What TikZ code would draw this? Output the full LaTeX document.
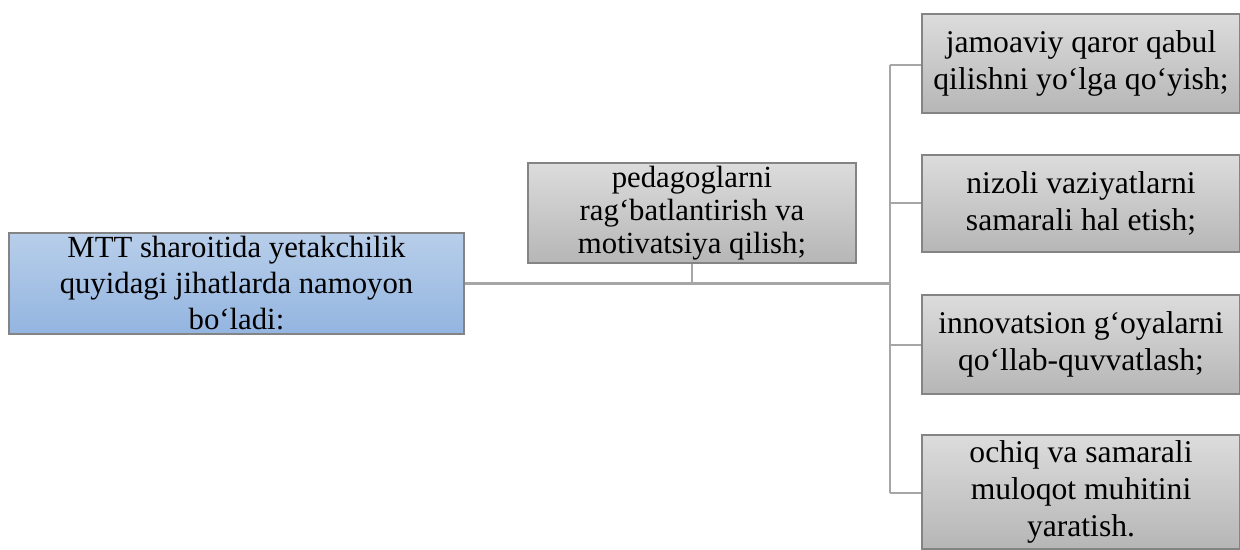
\documentclass[tikz,border=0pt]{standalone}
\usepackage{fontspec}
\setmainfont{Liberation Serif}
\definecolor{bluetop}{HTML}{B8CEEA}
\definecolor{bluebot}{HTML}{93B5E0}
\definecolor{greytop}{HTML}{DCDCDC}
\definecolor{greybot}{HTML}{B6B6B6}
\definecolor{edgegrey}{HTML}{848484}
\definecolor{linkgrey}{HTML}{A6A6A6}
\begin{document}
\begin{tikzpicture}[x=0.02cm,y=-0.02cm,
		box/.style={draw=edgegrey,line width=0.8pt,align=center,inner xsep=0pt,inner ysep=0pt,
			font=\fontsize{18}{21}\selectfont},
		bluebox/.style={box,top color=bluetop,bottom color=bluebot,font=\fontsize{17.5}{20.5}\selectfont},
		greybox/.style={box,top color=greytop,bottom color=greybot},
		link/.style={draw=linkgrey,line width=1.5pt}]
		\useasboundingbox (0,0) rectangle (1240,550);
		% boxes
		\node[bluebox,minimum width=9.10cm,minimum height=2.02cm] (main) at (236.5,283.5) {MTT sharoitida yetakchilik\\quyidagi jihatlarda namoyon\\bo‘ladi:};
		\node[greybox,minimum width=6.56cm,minimum height=2.00cm,font=\fontsize{17.5}{18.8}\selectfont] (ped) at (692,213) {pedagoglarni\\rag‘batlantirish va\\motivatsiya qilish;};
		\node[greybox,minimum width=6.36cm,minimum height=1.98cm] (r1) at (1081,63.5) {jamoaviy qaror qabul\\qilishni yo‘lga qo‘yish;};
		\node[greybox,minimum width=6.36cm,minimum height=1.94cm] (r2) at (1081,203.5) {nizoli vaziyatlarni\\samarali hal etish;};
		\node[greybox,minimum width=6.36cm,minimum height=1.98cm] (r3) at (1081,344.5) {innovatsion g‘oyalarni\\qo‘llab-quvvatlash;};
		\node[greybox,minimum width=6.36cm,minimum height=2.28cm] (r4) at (1081,492) {ochiq va samarali\\muloqot muhitini\\yaratish.};
		% trunk
		\coordinate (t1) at (890,65);
		\coordinate (t4) at (890,493);
		\coordinate (tm) at (890,283.5);
		\draw[link] (main.east) -- (tm);
		\draw[link] (ped.south) -- (ped.south |- tm);
		\draw[link] (t1) -- (t4);
		\draw[link] (t1) -- (r1.west |- t1);
		\draw[link] (890,203) -- (r2.west |- 890,203);
		\draw[link] (890,345) -- (r3.west |- 890,345);
		\draw[link] (t4) -- (r4.west |- t4);
	\end{tikzpicture}
\end{document}
